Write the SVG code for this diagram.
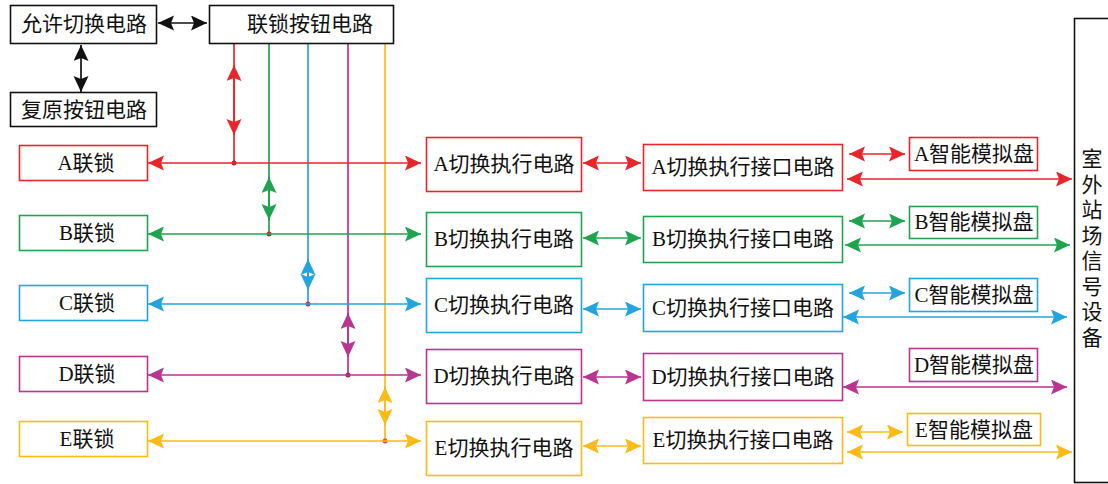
<svg xmlns="http://www.w3.org/2000/svg" width="1108" height="484" viewBox="0 0 1108 484">
<style>
text{font-family:"Liberation Serif","Noto Sans CJK SC",serif;font-size:21px;fill:#111;text-anchor:middle}
.box{fill:#fff;stroke-width:1.6}
.k{stroke:#111}.r{stroke:#e8262a}.g{stroke:#1ea44f}.b{stroke:#22a5df}.m{stroke:#b83590}.y{stroke:#fbbb14}
.ln{fill:none;stroke-width:1.7}
</style>
<defs>
<marker id="ak" markerUnits="userSpaceOnUse" markerWidth="17" markerHeight="16" refX="16" refY="7.5" orient="auto-start-reverse"><path d="M0,0 L16,7.5 L0,15 L3,7.5 z" fill="#111"/></marker>
<marker id="ar" markerUnits="userSpaceOnUse" markerWidth="17" markerHeight="16" refX="16" refY="7.5" orient="auto-start-reverse"><path d="M0,0 L16,7.5 L0,15 L3,7.5 z" fill="#e8262a"/></marker>
<marker id="ag" markerUnits="userSpaceOnUse" markerWidth="17" markerHeight="16" refX="16" refY="7.5" orient="auto-start-reverse"><path d="M0,0 L16,7.5 L0,15 L3,7.5 z" fill="#1ea44f"/></marker>
<marker id="ab" markerUnits="userSpaceOnUse" markerWidth="17" markerHeight="16" refX="16" refY="7.5" orient="auto-start-reverse"><path d="M0,0 L16,7.5 L0,15 L3,7.5 z" fill="#22a5df"/></marker>
<marker id="am" markerUnits="userSpaceOnUse" markerWidth="17" markerHeight="16" refX="16" refY="7.5" orient="auto-start-reverse"><path d="M0,0 L16,7.5 L0,15 L3,7.5 z" fill="#b83590"/></marker>
<marker id="ay" markerUnits="userSpaceOnUse" markerWidth="17" markerHeight="16" refX="16" refY="7.5" orient="auto-start-reverse"><path d="M0,0 L16,7.5 L0,15 L3,7.5 z" fill="#fbbb14"/></marker>
</defs>

<g id="connectors">
  <!-- black -->
  <line class="ln k" x1="158" y1="23" x2="207" y2="23" marker-start="url(#ak)" marker-end="url(#ak)"/>
  <line class="ln k" x1="81" y1="45" x2="81" y2="92" marker-start="url(#ak)" marker-end="url(#ak)"/>
  <!-- vertical feeds from 联锁按钮电路 -->
  <line class="ln r" x1="234" y1="43" x2="234" y2="163"/>
  <line class="ln r" x1="234" y1="65" x2="234" y2="135" marker-start="url(#ar)" marker-end="url(#ar)"/>
  <line class="ln g" x1="269" y1="43" x2="269" y2="234"/>
  <line class="ln g" x1="269" y1="177" x2="269" y2="220" marker-start="url(#ag)" marker-end="url(#ag)"/>
  <line class="ln b" x1="308" y1="43" x2="308" y2="304"/>
  <line class="ln b" x1="308" y1="259" x2="308" y2="290" marker-start="url(#ab)" marker-end="url(#ab)"/>
  <line class="ln m" x1="348" y1="43" x2="348" y2="375"/>
  <line class="ln m" x1="348" y1="313" x2="348" y2="357" marker-start="url(#am)" marker-end="url(#am)"/>
  <line class="ln y" x1="385" y1="43" x2="385" y2="441"/>
  <line class="ln y" x1="385" y1="387" x2="385" y2="425" marker-start="url(#ay)" marker-end="url(#ay)"/>
  <!-- junction dots -->
  <circle cx="234" cy="163" r="2.5" fill="#d42020"/>
  <circle cx="269" cy="234" r="2.5" fill="#c03030"/>
  <circle cx="308" cy="304" r="2.5" fill="#c03060"/>
  <circle cx="348" cy="375" r="2.5" fill="#b02060"/>
  <circle cx="385" cy="441" r="2.5" fill="#e05020"/>
  <!-- horizontal interlocks to switching circuits -->
  <line class="ln r" x1="148" y1="163" x2="421" y2="163" marker-start="url(#ar)" marker-end="url(#ar)"/>
  <line class="ln g" x1="148" y1="234" x2="421" y2="234" marker-start="url(#ag)" marker-end="url(#ag)"/>
  <line class="ln b" x1="148" y1="304" x2="421" y2="304" marker-start="url(#ab)" marker-end="url(#ab)"/>
  <line class="ln m" x1="148" y1="375" x2="421" y2="375" marker-start="url(#am)" marker-end="url(#am)"/>
  <line class="ln y" x1="148" y1="441" x2="421" y2="441" marker-start="url(#ay)" marker-end="url(#ay)"/>
  <!-- switching -> interface -->
  <line class="ln r" x1="583" y1="163" x2="641" y2="163" marker-start="url(#ar)" marker-end="url(#ar)"/>
  <line class="ln g" x1="583" y1="238" x2="641" y2="238" marker-start="url(#ag)" marker-end="url(#ag)"/>
  <line class="ln b" x1="583" y1="309" x2="641" y2="309" marker-start="url(#ab)" marker-end="url(#ab)"/>
  <line class="ln m" x1="583" y1="377" x2="641" y2="377" marker-start="url(#am)" marker-end="url(#am)"/>
  <line class="ln y" x1="583" y1="446" x2="641" y2="446" marker-start="url(#ay)" marker-end="url(#ay)"/>
  <!-- interface -> smart panel (short) -->
  <line class="ln r" x1="849" y1="154" x2="905" y2="154" marker-start="url(#ar)" marker-end="url(#ar)"/>
  <line class="ln g" x1="849" y1="221" x2="905" y2="221" marker-start="url(#ag)" marker-end="url(#ag)"/>
  <line class="ln b" x1="849" y1="293" x2="905" y2="293" marker-start="url(#ab)" marker-end="url(#ab)"/>
  <line class="ln y" x1="847" y1="432" x2="903" y2="432" marker-start="url(#ay)" marker-end="url(#ay)"/>
  <!-- interface -> outdoor equipment (long) -->
  <line class="ln r" x1="847" y1="179" x2="1072" y2="179" marker-start="url(#ar)" marker-end="url(#ar)"/>
  <line class="ln g" x1="845" y1="245" x2="1070" y2="245" marker-start="url(#ag)" marker-end="url(#ag)"/>
  <line class="ln b" x1="843" y1="317" x2="1067" y2="317" marker-start="url(#ab)" marker-end="url(#ab)"/>
  <line class="ln m" x1="843" y1="387" x2="1067" y2="387" marker-start="url(#am)" marker-end="url(#am)"/>
  <line class="ln y" x1="847" y1="452" x2="1072" y2="452" marker-start="url(#ay)" marker-end="url(#ay)"/>
</g>

<g id="allow-switch"><rect class="box k" x="10.5" y="5.5" width="146" height="38"/><text x="84" y="31">允许切换电路</text></g>
<g id="interlock-button"><rect class="box k" x="209.5" y="5.5" width="184" height="38"/><text x="310" y="31">联锁按钮电路</text></g>
<g id="reset-button"><rect class="box k" x="10.5" y="92.5" width="146" height="34"/><text x="84" y="117">复原按钮电路</text></g>

<g id="A-interlock"><rect class="box r" x="19.5" y="145.5" width="128" height="35"/><text x="86" y="170">A联锁</text></g>
<g id="B-interlock"><rect class="box g" x="19.5" y="215.5" width="128" height="35"/><text x="87" y="240">B联锁</text></g>
<g id="C-interlock"><rect class="box b" x="19.5" y="285.5" width="128" height="35"/><text x="87" y="310">C联锁</text></g>
<g id="D-interlock"><rect class="box m" x="19.5" y="356.5" width="128" height="35"/><text x="87" y="381">D联锁</text></g>
<g id="E-interlock"><rect class="box y" x="19.5" y="421.5" width="128" height="35"/><text x="87" y="446">E联锁</text></g>

<g id="A-switch"><rect class="box r" x="426.5" y="137.5" width="155" height="54"/><text x="504" y="171">A切换执行电路</text></g>
<g id="B-switch"><rect class="box g" x="426.5" y="212.5" width="155" height="54"/><text x="504" y="246">B切换执行电路</text></g>
<g id="C-switch"><rect class="box b" x="426.5" y="278.5" width="155" height="54"/><text x="504" y="312">C切换执行电路</text></g>
<g id="D-switch"><rect class="box m" x="426.5" y="349.5" width="155" height="54"/><text x="504" y="383">D切换执行电路</text></g>
<g id="E-switch"><rect class="box y" x="426.5" y="421.5" width="155" height="54"/><text x="504" y="455">E切换执行电路</text></g>

<g id="A-interface"><rect class="box r" x="643.5" y="144.5" width="199" height="46"/><text x="743" y="174">A切换执行接口电路</text></g>
<g id="B-interface"><rect class="box g" x="643.5" y="216.5" width="199" height="46"/><text x="743" y="246">B切换执行接口电路</text></g>
<g id="C-interface"><rect class="box b" x="643.5" y="284.5" width="199" height="47"/><text x="743" y="315">C切换执行接口电路</text></g>
<g id="D-interface"><rect class="box m" x="643.5" y="353.5" width="199" height="47"/><text x="743" y="384">D切换执行接口电路</text></g>
<g id="E-interface"><rect class="box y" x="643.5" y="417.5" width="199" height="46"/><text x="743" y="447">E切换执行接口电路</text></g>

<g id="A-panel"><rect class="box r" x="909.5" y="137.5" width="128" height="33"/><text x="974" y="161">A智能模拟盘</text></g>
<g id="B-panel"><rect class="box g" x="909.5" y="206.5" width="128" height="32"/><text x="974" y="229">B智能模拟盘</text></g>
<g id="C-panel"><rect class="box b" x="909.5" y="278.5" width="128" height="33"/><text x="974" y="302">C智能模拟盘</text></g>
<g id="D-panel"><rect class="box m" x="909.5" y="348.5" width="128" height="33"/><text x="974" y="372">D智能模拟盘</text></g>
<g id="E-panel"><rect class="box y" x="907.5" y="413.5" width="133" height="32"/><text x="974" y="437">E智能模拟盘</text></g>

<g id="outdoor-equipment"><rect class="box k" x="1074.5" y="18.5" width="50" height="464"/>
<text x="1092" y="166" style="font-size:21px"><tspan x="1092">室</tspan><tspan x="1092" dy="25.5">外</tspan><tspan x="1092" dy="25.5">站</tspan><tspan x="1092" dy="25.5">场</tspan><tspan x="1092" dy="25.5">信</tspan><tspan x="1092" dy="25.5">号</tspan><tspan x="1092" dy="25.5">设</tspan><tspan x="1092" dy="25.5">备</tspan></text></g>
</svg>
